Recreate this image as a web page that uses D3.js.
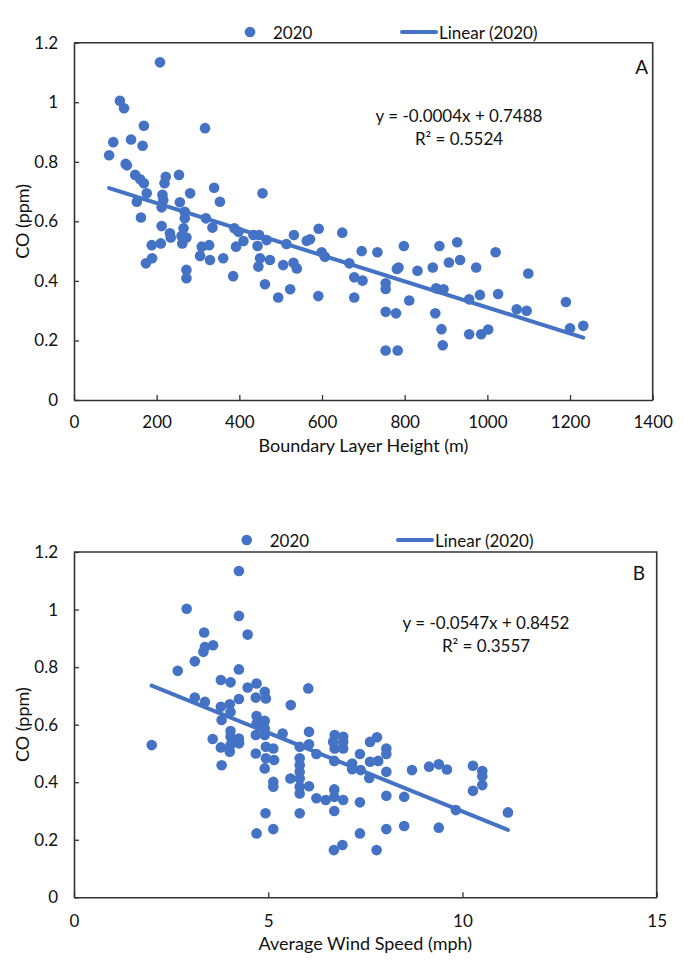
<!DOCTYPE html>
<html>
<head>
<meta charset="utf-8">
<script src="https://cdn.jsdelivr.net/npm/d3@7"></script>
<style>
  html, body { margin: 0; padding: 0; background: #fff; }
  svg { display: block; }
  text { font-family: Lato, "Open Sans", sans-serif; fill: #111; }
</style>
</head>
<body>
<svg id="chart" width="684" height="973"></svg>
<script>
// ---------- Data ----------
const seriesName = "2020";
const trendName = "Linear (2020)";
const yTicks = [0, 0.2, 0.4, 0.6, 0.8, 1, 1.2];

// Panel A: Boundary Layer Height (m) vs CO (ppm)
const blhX = [85, 95, 111, 121, 125, 128, 138, 148, 160, 166, 169, 169, 208, 152, 162, 174, 176, 188, 189, 210,
  212, 212, 214, 216, 219, 222, 232, 234, 254, 256, 260, 262, 265, 268, 268, 272, 272, 272, 281, 305,
  309, 317, 319, 327, 329, 335, 339, 353, 361, 385, 388, 392, 398, 410, 434, 444, 446, 448, 450, 456,
  462, 466, 474, 494, 506, 514, 523, 531, 532, 539, 563, 571, 591, 592, 599, 607, 649, 666, 678, 678,
  696, 698, 734, 754, 754, 754, 754, 779, 781, 785, 783, 798, 811, 831, 868, 874, 876, 884, 889, 892,
  894, 907, 927, 934, 956, 956, 973, 982, 985, 1002, 1020, 1026, 1071, 1095, 1099, 1190, 1200, 1232];
const blhCO = [0.822, 0.866, 1.005, 0.980, 0.793, 0.788, 0.875, 0.756, 0.741, 0.854, 0.921, 0.728, 1.134, 0.666, 0.613, 0.459, 0.694, 0.520, 0.476, 0.526,
  0.647, 0.584, 0.689, 0.672, 0.728, 0.750, 0.560, 0.546, 0.756, 0.664, 0.551, 0.526, 0.577, 0.632, 0.610, 0.546, 0.437, 0.409, 0.694, 0.484,
  0.515, 0.913, 0.610, 0.520, 0.470, 0.579, 0.713, 0.666, 0.476, 0.416, 0.577, 0.515, 0.565, 0.534, 0.554, 0.517, 0.448, 0.554, 0.476, 0.694,
  0.389, 0.537, 0.470, 0.344, 0.453, 0.524, 0.372, 0.461, 0.554, 0.442, 0.535, 0.540, 0.349, 0.575, 0.496, 0.481, 0.562, 0.459, 0.412, 0.344,
  0.500, 0.401, 0.496, 0.392, 0.373, 0.296, 0.166, 0.291, 0.440, 0.445, 0.166, 0.517, 0.334, 0.434, 0.445, 0.291, 0.375, 0.517, 0.238, 0.184,
  0.372, 0.462, 0.530, 0.470, 0.338, 0.221, 0.445, 0.353, 0.221, 0.237, 0.496, 0.356, 0.305, 0.300, 0.425, 0.329, 0.241, 0.249];
const blhTicks = [0, 200, 400, 600, 800, 1000, 1200, 1400];
const blhTrend = [-0.000438, 0.7488]; // slope, intercept
const blhEquation = ["y = -0.0004x + 0.7488", "R² = 0.5524"];

// Panel B: Average Wind Speed (mph) vs CO (ppm)
const wsX = [2.00, 2.67, 2.90, 3.11, 3.11, 3.33, 3.37, 3.35, 3.37, 3.58, 3.57, 3.78, 3.78, 3.80, 3.78, 3.80, 4.01, 4.03, 4.03, 4.03,
  4.03, 4.03, 4.01, 4.245, 4.245, 4.245, 4.245, 4.245, 4.25, 4.47, 4.47, 4.70, 4.68, 4.70, 4.70, 4.68, 4.68, 4.70, 4.91, 4.94,
  4.91, 4.91, 4.91, 4.94, 4.94, 4.91, 4.93, 5.13, 5.15, 5.13, 5.13, 5.13, 5.37, 5.58, 5.57, 5.81, 5.81, 5.81, 5.81, 5.81,
  5.81, 5.81, 5.81, 6.03, 6.05, 6.05, 6.05, 6.24, 6.24, 6.48, 6.71, 6.67, 6.71, 6.70, 6.70, 6.70, 6.70, 6.69, 6.93, 6.93,
  6.93, 6.93, 6.91, 7.16, 7.16, 7.36, 7.38, 7.36, 7.36, 7.62, 7.62, 7.60, 7.80, 7.83, 7.79, 8.04, 8.04, 8.04, 8.04, 8.04,
  8.50, 8.50, 8.70, 9.14, 9.39, 9.60, 9.39, 9.83, 10.27, 10.51, 10.51, 10.51, 10.27, 11.17];
const wsCO = [0.529, 0.787, 1.003, 0.820, 0.694, 0.853, 0.870, 0.920, 0.679, 0.876, 0.550, 0.755, 0.662, 0.616, 0.521, 0.459, 0.671, 0.747, 0.644, 0.578,
  0.558, 0.529, 0.506, 1.134, 0.978, 0.792, 0.689, 0.552, 0.535, 0.913, 0.729, 0.743, 0.694, 0.630, 0.604, 0.564, 0.500, 0.222, 0.714, 0.691,
  0.613, 0.587, 0.564, 0.523, 0.483, 0.448, 0.292, 0.517, 0.477, 0.401, 0.384, 0.237, 0.569, 0.668, 0.413, 0.523, 0.483, 0.459, 0.436, 0.413,
  0.384, 0.361, 0.292, 0.726, 0.575, 0.532, 0.386, 0.498, 0.344, 0.338, 0.564, 0.540, 0.517, 0.474, 0.375, 0.349, 0.300, 0.164, 0.558, 0.540,
  0.517, 0.338, 0.182, 0.465, 0.445, 0.498, 0.442, 0.330, 0.222, 0.540, 0.471, 0.415, 0.556, 0.474, 0.164, 0.517, 0.498, 0.436, 0.353, 0.237,
  0.349, 0.248, 0.442, 0.454, 0.462, 0.444, 0.242, 0.303, 0.457, 0.439, 0.421, 0.390, 0.370, 0.295];
const wsTicks = [0, 5, 10, 15];
const wsTrend = [-0.0547, 0.8452];
const wsEquation = ["y = -0.0547x + 0.8452", "R² = 0.3557"];

// ---------- Drawing ----------
const COLOR = "#4472C4";
const AXIS = "#333";
const FS = 17;
const svg = d3.select("#chart");

function panel(cfg) {
  const x = d3.scaleLinear().domain(cfg.xDomain).range([cfg.left, cfg.right]);
  const y = d3.scaleLinear().domain([0, 1.2]).range([cfg.bottom, cfg.top]);
  const g = svg.append("g");

  // frame (top & right)
  g.append("path")
    .attr("d", `M${cfg.left},${cfg.top}H${cfg.right}V${cfg.bottom}`)
    .attr("fill", "none").attr("stroke", AXIS).attr("stroke-width", 1.6);

  const fmt = d => String(+(+d).toFixed(1));
  const xa = g.append("g").attr("transform", `translate(0,${cfg.bottom})`)
    .call(d3.axisBottom(x).tickValues(cfg.xTicks).tickFormat(d3.format("d"))
      .tickSizeInner(-5).tickSizeOuter(0).tickPadding(cfg.xPad));
  const ya = g.append("g").attr("transform", `translate(${cfg.left},0)`)
    .call(d3.axisLeft(y).tickValues(yTicks).tickFormat(fmt)
      .tickSizeInner(-5).tickSizeOuter(0).tickPadding(16));
  [xa, ya].forEach(a => {
    a.select(".domain").attr("stroke", AXIS).attr("stroke-width", 1.6);
    a.selectAll(".tick line").attr("stroke", AXIS).attr("stroke-width", 1.3);
    a.selectAll(".tick text").attr("font-size", FS).attr("fill", "#111")
      .style("font-family", "Lato, sans-serif");
  });

  // axis titles
  g.append("text").attr("x", (cfg.left + cfg.right) / 2).attr("y", cfg.xTitleY)
    .attr("text-anchor", "middle").attr("dominant-baseline", "central")
    .attr("font-size", 18).text(cfg.xTitle);
  g.append("text")
    .attr("transform", `translate(22,${(cfg.top + cfg.bottom) / 2}) rotate(-90)`)
    .attr("text-anchor", "middle").attr("dominant-baseline", "central")
    .attr("font-size", 18).text("CO (ppm)");

  // points
  const pts = cfg.xs.map((v, i) => [v, cfg.ys[i]]);
  g.append("g").selectAll("circle").data(pts).join("circle")
    .attr("cx", d => x(d[0])).attr("cy", d => y(d[1])).attr("r", 5.3)
    .attr("fill", COLOR);

  // trend line
  const [m, b] = cfg.trend;
  const xr = d3.extent(cfg.xs);
  g.append("line")
    .attr("x1", x(xr[0])).attr("y1", y(m * xr[0] + b))
    .attr("x2", x(xr[1])).attr("y2", y(m * xr[1] + b))
    .attr("stroke", COLOR).attr("stroke-width", 4).attr("stroke-linecap", "round");

  // equation
  cfg.eq.forEach((t, i) => {
    g.append("text").attr("x", cfg.eqX).attr("y", cfg.eqY + i * 23)
      .attr("text-anchor", "middle").attr("dominant-baseline", "central")
      .attr("font-size", 17).text(t);
  });
  // panel letter
  g.append("text").attr("x", cfg.letterX).attr("y", cfg.letterY)
    .attr("text-anchor", "middle").attr("dominant-baseline", "central")
    .attr("font-size", 19).text(cfg.letter);

  // legend
  const L = cfg.legend;
  g.append("circle").attr("cx", L.mx).attr("cy", L.y).attr("r", 5.3).attr("fill", COLOR);
  g.append("text").attr("x", L.mx + 23).attr("y", L.y).attr("dominant-baseline", "central")
    .attr("font-size", FS).text(seriesName);
  g.append("line").attr("x1", L.lx).attr("x2", L.lx + 34).attr("y1", L.y).attr("y2", L.y)
    .attr("stroke", COLOR).attr("stroke-width", 4).attr("stroke-linecap", "round");
  g.append("text").attr("x", L.lx + 37).attr("y", L.y).attr("dominant-baseline", "central")
    .attr("font-size", FS).text(trendName);
}

panel({
  xDomain: [0, 1400], xTicks: blhTicks, xs: blhX, ys: blhCO, trend: blhTrend,
  left: 74, right: 652.7, top: 42.7, bottom: 400, xPad: 16, xTitleY: 445,
  xTitle: "Boundary Layer Height (m)", eq: blhEquation, eqX: 459, eqY: 115,
  letter: "A", letterX: 641.7, letterY: 66,
  legend: { mx: 250, lx: 402, y: 32 }
});
panel({
  xDomain: [0, 15], xTicks: wsTicks, xs: wsX, ys: wsCO, trend: wsTrend,
  left: 74, right: 656.7, top: 552, bottom: 897.3, xPad: 18, xTitleY: 943,
  xTitle: "Average Wind Speed (mph)", eq: wsEquation, eqX: 486, eqY: 622,
  letter: "B", letterX: 639, letterY: 572,
  legend: { mx: 246.7, lx: 398, y: 540 }
});
</script>
</body>
</html>
